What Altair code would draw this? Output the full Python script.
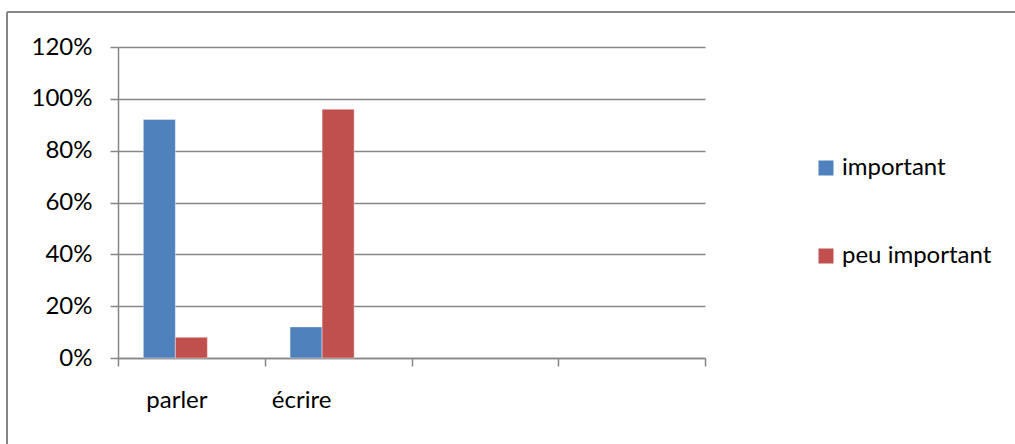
import altair as alt
import pandas as pd

# Survey answers: share of respondents per skill
skills = ["parler", "écrire"]
series = ["important", "peu important"]
important = [0.92, 0.12]
peu_important = [0.08, 0.96]

# Category slots on the x axis (two unused slots stay empty)
slots = ["parler", "écrire", " ", "  "]
# Offset slots per category (the third one holds no bars)
offset_slots = ["important", "peu important", "vide"]
colors = ["#4F81BD", "#C0504D"]
y_ticks = [0, 0.2, 0.4, 0.6, 0.8, 1.0, 1.2]

rows = []
for i, s in enumerate(skills):
    rows.append({"skill": s, "serie": series[0], "value": important[i]})
    rows.append({"skill": s, "serie": series[1], "value": peu_important[i]})
df = pd.DataFrame(rows)

FONT = "Lato"
GRAY = "#868686"

bars = alt.Chart(df).mark_bar(stroke="#ffffff", strokeOpacity=0.5, strokeWidth=0.8).encode(
    x=alt.X(
        "skill:N",
        scale=alt.Scale(domain=slots, paddingInner=0, paddingOuter=0),
        sort=slots,
        axis=alt.Axis(
            title=None,
            labelAngle=0,
            tickBand="extent",
            tickSize=8,
            tickColor=GRAY,
            tickWidth=1.5,
            domainColor=GRAY,
            domainWidth=1.5,
            labelFont=FONT,
            labelFontSize=24,
            labelColor="#000000",
            labelPadding=22,
            labelOffset={"condition": {"test": "datum.value == 'parler'", "value": -15}, "value": -37},
            grid=False,
        ),
    ),
    xOffset=alt.XOffset(
        "serie:N",
        scale=alt.Scale(domain=offset_slots, paddingInner=0, paddingOuter=0.79),
    ),
    y=alt.Y(
        "value:Q",
        scale=alt.Scale(domain=[0, 1.2], nice=False, zero=True),
        axis=alt.Axis(
            title=None,
            values=y_ticks,
            format=".0%",
            tickSize=8,
            tickColor=GRAY,
            tickWidth=1.5,
            domainColor=GRAY,
            domainWidth=1.5,
            gridColor=GRAY,
            gridWidth=1.5,
            labelFont=FONT,
            labelFontSize=24,
            labelColor="#000000",
            labelPadding=18,
        ),
    ),
    color=alt.Color(
        "serie:N",
        scale=alt.Scale(domain=series, range=colors),
        legend=alt.Legend(
            title=None,
            orient="none",
            legendX=696,
            legendY=109,
            symbolType="square",
            symbolSize=225,
            symbolStrokeWidth=0,
            labelFont=FONT,
            labelFontSize=24,
            labelColor="#000000",
            labelOffset=4,
            rowPadding=64,
        ),
    ),
)

# Outer frame lines (top and left edges of the chart box)
frame_top = alt.Chart(df).mark_rule(color=GRAY, strokeWidth=2).encode(
    x=alt.value(-111), x2=alt.value(900), y=alt.value(-35)
)
frame_left = alt.Chart(df).mark_rule(color=GRAY, strokeWidth=2).encode(
    x=alt.value(-111), y=alt.value(-35), y2=alt.value(400)
)

chart = (
    alt.layer(bars, frame_top, frame_left)
    .properties(
        width=587,
        height=311,
        autosize=alt.AutoSizeParams(type="none"),
        padding={"left": 118, "top": 47, "right": 310, "bottom": 86},
        background="#ffffff",
    )
    .configure_view(stroke=None)
)

chart.save("out.html", embed_options={"renderer": "svg", "actions": False})
